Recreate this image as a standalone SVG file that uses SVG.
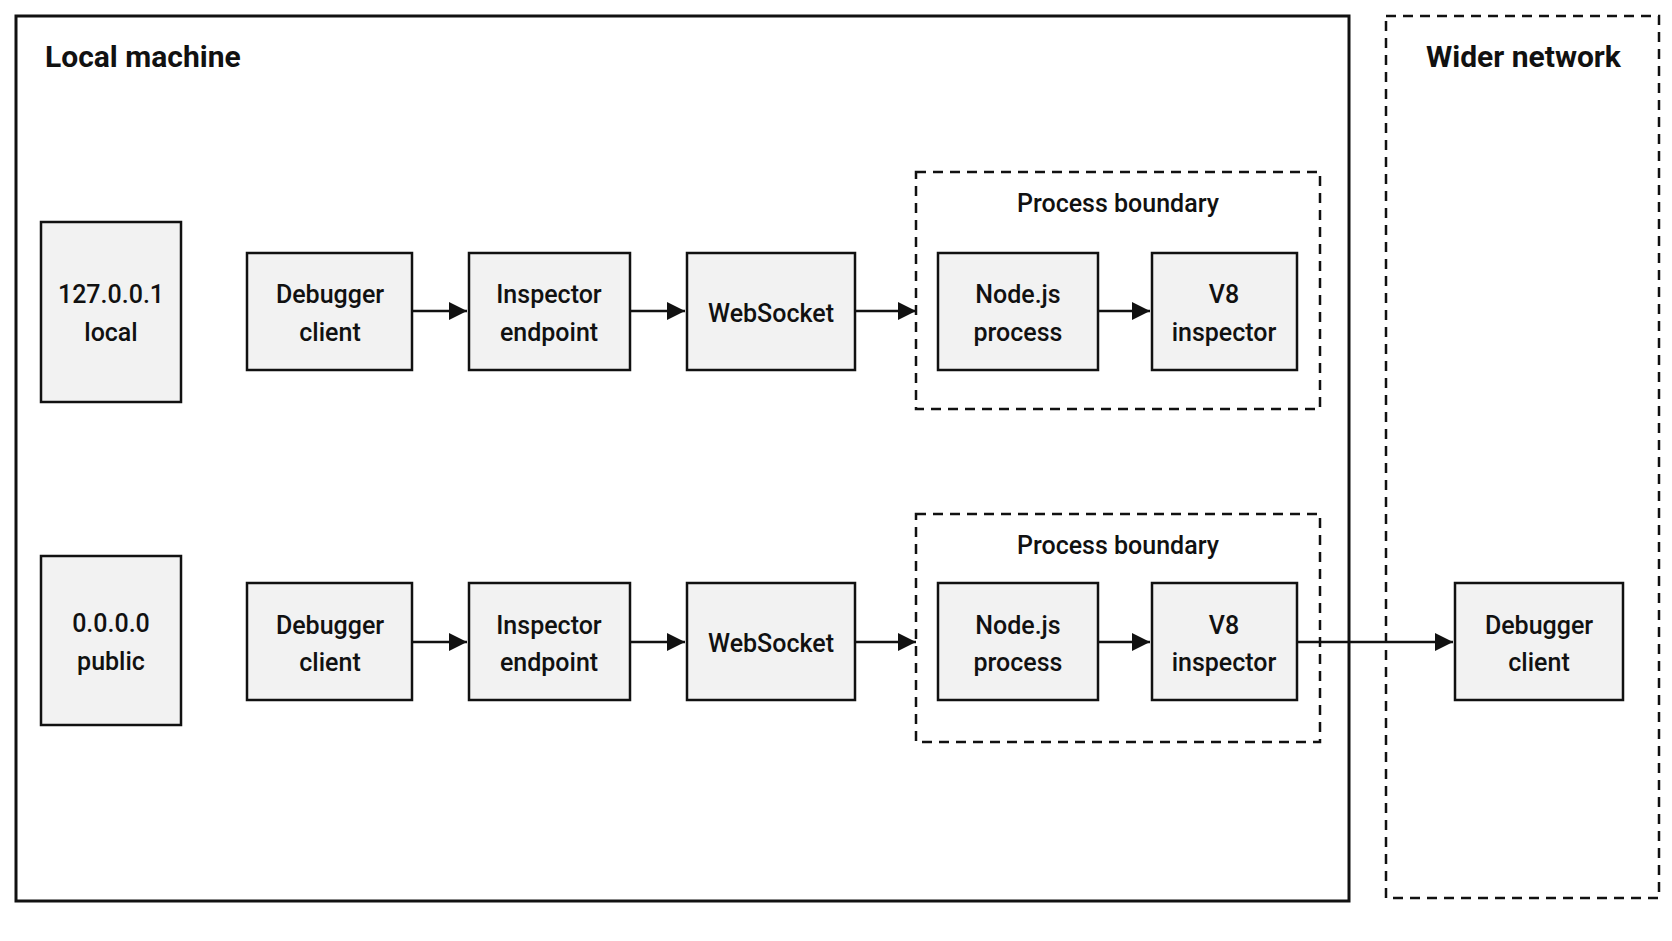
<svg xmlns="http://www.w3.org/2000/svg" width="1672" height="941" viewBox="0 0 1672 941">
<style>
text{font-family:Roboto,"Liberation Sans",sans-serif;font-weight:500;font-size:25px;fill:#111;text-anchor:middle;dominant-baseline:central}
.t{font-weight:700;font-size:30px;text-anchor:start}
.n{fill:#f2f2f2;stroke:#111;stroke-width:2.5}
.d{fill:none;stroke:#111;stroke-width:2.5;stroke-dasharray:10 7}
.c{stroke:#111;stroke-width:2.5;fill:none;marker-end:url(#a)}
</style>
<defs><marker id="a" viewBox="0 0 10 10" refX="10" refY="5" markerWidth="18" markerHeight="18" markerUnits="userSpaceOnUse" orient="auto"><path d="M0,0L10,5L0,10z" fill="#111"/></marker></defs>
<rect width="1672" height="941" fill="#fff"/>
<g id="local"><rect x="16" y="16" width="1333" height="885" fill="none" stroke="#111" stroke-width="3"/><text class="t" x="45" y="56">Local machine</text></g>
<g id="wider"><rect class="d" x="1386" y="16" width="273" height="882"/><text class="t" x="1426" y="56">Wider network</text></g>
<g id="pb1"><rect class="d" x="916" y="172" width="404" height="237"/><text x="1118" y="203">Process boundary</text></g>
<g id="pb2"><rect class="d" x="916" y="514" width="404" height="228"/><text x="1118" y="545">Process boundary</text></g>
<g id="n127"><rect class="n" x="41" y="222" width="140" height="180"/><text x="111" y="294">127.0.0.1</text><text x="111" y="332">local</text></g>
<g id="dc1"><rect class="n" x="247" y="253" width="165" height="117"/><text x="330" y="294">Debugger</text><text x="330" y="332">client</text></g>
<g id="ie1"><rect class="n" x="469" y="253" width="161" height="117"/><text x="549" y="294">Inspector</text><text x="549" y="332">endpoint</text></g>
<g id="ws1"><rect class="n" x="687" y="253" width="168" height="117"/><text x="771" y="313">WebSocket</text></g>
<g id="np1"><rect class="n" x="938" y="253" width="160" height="117"/><text x="1018" y="294">Node.js</text><text x="1018" y="332">process</text></g>
<g id="v81"><rect class="n" x="1152" y="253" width="145" height="117"/><text x="1224" y="294">V8</text><text x="1224" y="332">inspector</text></g>
<g id="n000"><rect class="n" x="41" y="556" width="140" height="169"/><text x="111" y="623">0.0.0.0</text><text x="111" y="661">public</text></g>
<g id="dc2"><rect class="n" x="247" y="583" width="165" height="117"/><text x="330" y="625">Debugger</text><text x="330" y="662">client</text></g>
<g id="ie2"><rect class="n" x="469" y="583" width="161" height="117"/><text x="549" y="625">Inspector</text><text x="549" y="662">endpoint</text></g>
<g id="ws2"><rect class="n" x="687" y="583" width="168" height="117"/><text x="771" y="643">WebSocket</text></g>
<g id="np2"><rect class="n" x="938" y="583" width="160" height="117"/><text x="1018" y="625">Node.js</text><text x="1018" y="662">process</text></g>
<g id="v82"><rect class="n" x="1152" y="583" width="145" height="117"/><text x="1224" y="625">V8</text><text x="1224" y="662">inspector</text></g>
<g id="dc3"><rect class="n" x="1455" y="583" width="168" height="117"/><text x="1539" y="625">Debugger</text><text x="1539" y="662">client</text></g>
<g id="connectors">
<path class="c" d="M412,311H467"/><path class="c" d="M630,311H685"/><path class="c" d="M855,311H916"/><path class="c" d="M1098,311H1150"/>
<path class="c" d="M412,642H467"/><path class="c" d="M630,642H685"/><path class="c" d="M855,642H916"/><path class="c" d="M1098,642H1150"/>
<path class="c" d="M1297,642H1453"/>
</g>
</svg>
